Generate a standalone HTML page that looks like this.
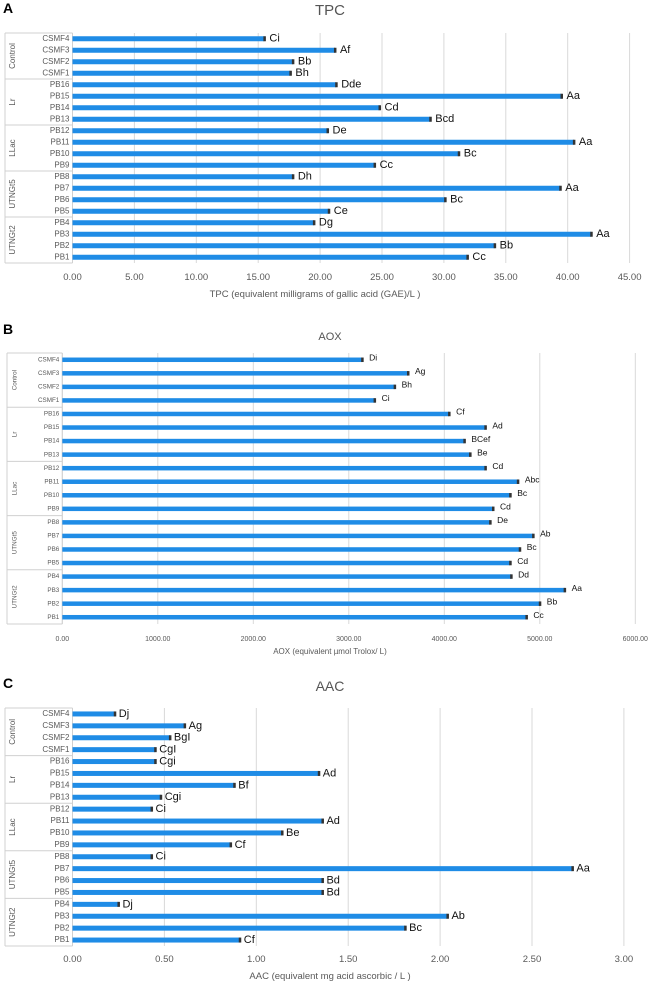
<!DOCTYPE html>
<html><head><meta charset="utf-8">
<style>
html,body{margin:0;padding:0;background:#fff;}
svg{display:block;font-family:"Liberation Sans",sans-serif;}
</style></head>
<body>
<svg id="c" width="660" height="985" viewBox="0 0 660 985" xmlns="http://www.w3.org/2000/svg"></svg>
<script>
const categories = ["CSMF4","CSMF3","CSMF2","CSMF1","PB16","PB15","PB14","PB13","PB12","PB11","PB10","PB9","PB8","PB7","PB6","PB5","PB4","PB3","PB2","PB1"];
const groups = ["Control","Lr","LLac","UTNGt5","UTNGt2"];
const tpcValues = [15.5,21.2,17.8,17.6,21.3,39.5,24.8,28.9,20.6,40.5,31.2,24.4,17.8,39.4,30.1,20.7,19.5,41.9,34.1,31.9];
const tpcLetters = ["Ci","Af","Bb","Bh","Dde","Aa","Cd","Bcd","De","Aa","Bc","Cc","Dh","Aa","Bc","Ce","Dg","Aa","Bb","Cc"];
const tpcTicks = [0,5,10,15,20,25,30,35,40,45];
const aoxValues = [3140,3620,3480,3270,4050,4430,4210,4270,4430,4770,4690,4510,4480,4930,4790,4690,4700,5260,5000,4860];
const aoxLetters = ["Di","Ag","Bh","Ci","Cf","Ad","BCef","Be","Cd","Abc","Bc","Cd","De","Ab","Bc","Cd","Dd","Aa","Bb","Cc"];
const aoxTicks = [0,1000,2000,3000,4000,5000,6000];
const aacValues = [0.23,0.61,0.53,0.45,0.45,1.34,0.88,0.48,0.43,1.36,1.14,0.86,0.43,2.72,1.36,1.36,0.25,2.04,1.81,0.91];
const aacLetters = ["Dj","Ag","BgI","CgI","Cgi","Ad","Bf","Cgi","Ci","Ad","Be","Cf","Ci","Aa","Bd","Bd","Dj","Ab","Bc","Cf"];
const aacTicks = [0,0.5,1,1.5,2,2.5,3];

const NS="http://www.w3.org/2000/svg";
const svg=document.getElementById('c');
function mk(tag,attrs,parent,text){const e=document.createElementNS(NS,tag);for(const k in attrs)e.setAttribute(k,attrs[k]);if(text!==undefined)e.textContent=text;(parent||svg).appendChild(e);return e;}

function panel(o){
  const g=mk('g',{});
  
  
  const x=v=>o.x0+(v-o.tmin)*o.scale;
  const rowStep=(o.yBot-o.yTop)/categories.length;
  const rowY=i=>o.yTop+rowStep*(i+0.5);
  const pl=mk('text',{x:3,y:o.letterY,'font-size':14,'font-weight':'bold',fill:'#000'},g,o.letter);
  
  
  const t=mk('text',{x:330,y:o.titleY,'font-size':o.titleSize,'text-anchor':'middle',fill:'#555'},g,o.title);
  
  
  o.ticks.forEach(v=>{
    const gl=mk('line',{x1:x(v),x2:x(v),y1:o.yTop,y2:o.yBot,stroke:'#d9d9d9','stroke-width':1},g);
    
    
    const tl=mk('text',{x:x(v),y:o.tickY,'font-size':o.tickSize,'text-anchor':'middle',fill:'#595959'},g,v.toFixed(2));
    
    
  });
  const gs=mk('line',{x1:o.boxL,x2:o.x0,y1:o.yTop,y2:o.yTop,stroke:'#d0d0d0'},g);
  
  
  const vl=mk('line',{x1:o.x0,x2:o.x0,y1:o.yTop,y2:o.yBot,stroke:'#d0d0d0'},g);
  
  
  groups.forEach((gn,k)=>{
    const yb=o.yTop+rowStep*4*(k+1), ym=o.yTop+rowStep*4*(k+0.5);
    const sep=mk('line',{x1:o.boxL,x2:o.x0,y1:yb,y2:yb,stroke:'#d0d0d0'},g);
    
    
    const gt=mk('text',{x:o.boxL+8,y:ym,'font-size':o.grpSize,'text-anchor':'middle',fill:'#595959',transform:`rotate(-90 ${o.boxL+8} ${ym})`,'dominant-baseline':'middle'},g,gn);
    
    
  });
  const bl=mk('line',{x1:o.boxL,x2:o.boxL,y1:o.yTop,y2:o.yBot,stroke:'#d0d0d0'},g);
  
  
  categories.forEach((c,i)=>{
    const y=rowY(i);
    const cl=mk('text',{x:o.x0-3,y:y,'font-size':o.catSize,'text-anchor':'end','dominant-baseline':'middle',fill:'#595959'},g,c);
    
    
    const v=o.values[i];
    const b=mk('rect',{x:o.x0,y:y-o.barH/2,width:x(v)-o.x0,height:o.barH,fill:'#1f8ce6'},g);
    
    
    const eb=mk('line',{x1:x(v)-1,x2:x(v)+1.5,y1:y,y2:y,stroke:'#333','stroke-width':o.barH},g);
    
    
    const lt=mk('text',{x:x(v)+o.lblGap,y:y+o.lblDy,'font-size':o.lblSize,fill:'#111','dominant-baseline':'middle'},g,o.letters[i]);
    
    
  });
  const at=mk('text',{x:o.axisTitleX,y:o.axisTitleY,'font-size':o.axisTitleSize,'text-anchor':'middle',fill:'#595959'},g,o.axisTitle);
  
  
}

panel({id:'tpc',letter:'A',letterY:13,title:'TPC',titleY:15,titleSize:15,x0:72.5,tmin:0,scale:12.38,yTop:33,yBot:263,boxL:5,
  ticks:tpcTicks,tickY:280,tickSize:9.5,values:tpcValues,letters:tpcLetters,barH:5,catSize:8,grpSize:8,lblSize:11,lblGap:5,lblDy:0,
  axisTitle:'TPC (equivalent milligrams of gallic acid (GAE)/L )',axisTitleX:315,axisTitleY:297,axisTitleSize:9.5});
panel({id:'aox',letter:'B',letterY:334,title:'AOX',titleY:340,titleSize:11,x0:62.3,tmin:0,scale:0.0955,yTop:353,yBot:624,boxL:7,
  ticks:aoxTicks,tickY:641,tickSize:7,values:aoxValues,letters:aoxLetters,barH:4.5,catSize:6.3,grpSize:6.3,lblSize:8.5,lblGap:7,lblDy:-1.5,
  axisTitle:'AOX (equivalent µmol Trolox/ L)',axisTitleX:330,axisTitleY:654,axisTitleSize:8});
panel({id:'aac',letter:'C',letterY:688,title:'AAC',titleY:691,titleSize:14,x0:72.5,tmin:0,scale:183.8,yTop:708,yBot:946,boxL:5,
  ticks:aacTicks,tickY:962,tickSize:9.5,values:aacValues,letters:aacLetters,barH:5,catSize:8,grpSize:8,lblSize:11,lblGap:4,lblDy:0,
  axisTitle:'AAC (equivalent mg acid ascorbic / L )',axisTitleX:330,axisTitleY:979,axisTitleSize:9.5});
</script>
</body></html>
